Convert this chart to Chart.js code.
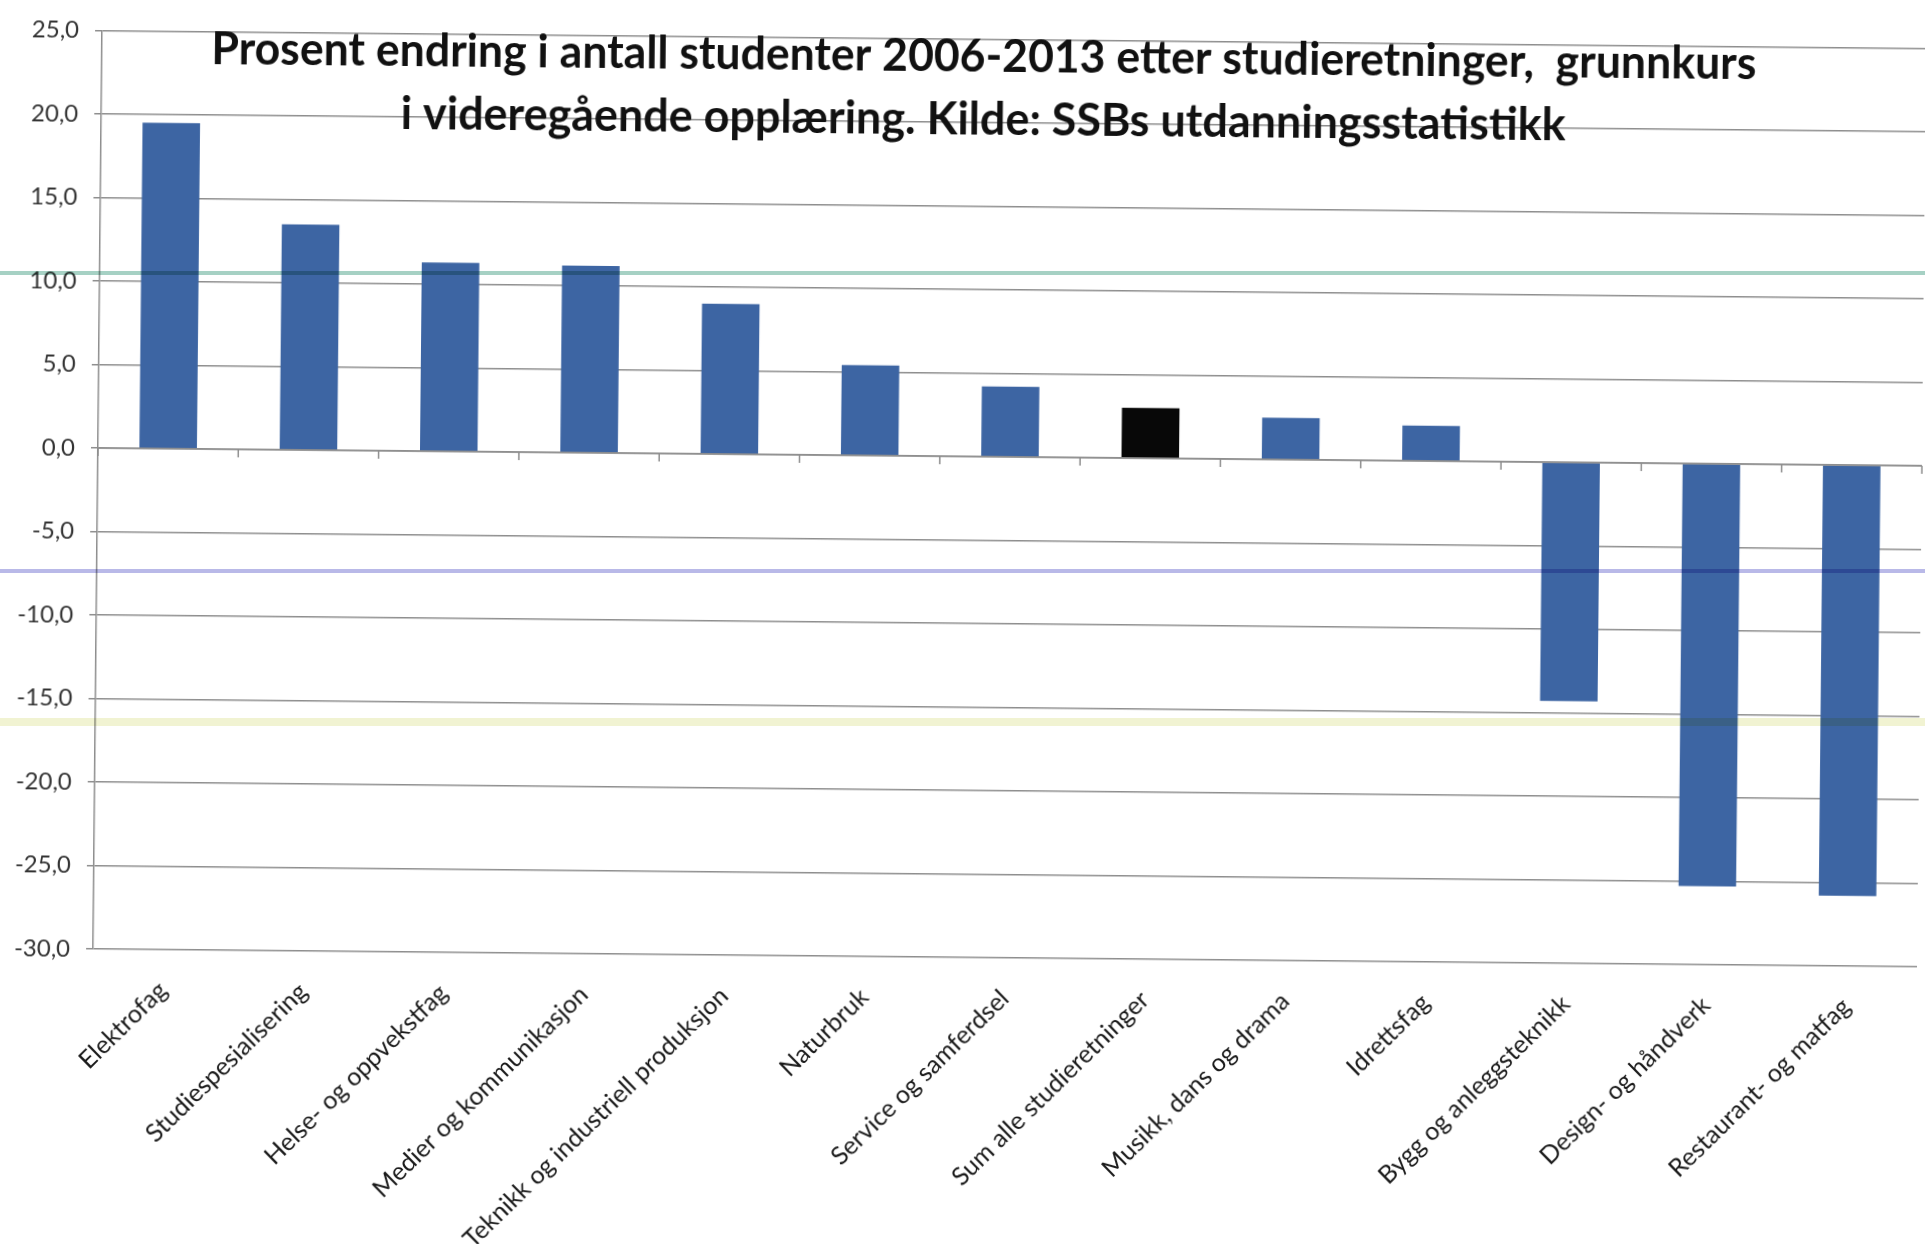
<!DOCTYPE html>
<html lang="no">
<head>
<meta charset="utf-8">
<title>Prosent endring i antall studenter 2006-2013</title>
<script src="https://cdn.jsdelivr.net/npm/chart.js@4.4.1/dist/chart.umd.min.js"></script>
<style>
  html, body { margin: 0; padding: 0; background: #fff; }
  #wrap { position: relative; width: 1925px; height: 1244px; overflow: hidden; background: #fff; }
  /* the scanned original is turned a little clockwise */
  #chart { display: block; transform: rotate(0.56deg); transform-origin: 98px 447px; }
  .scanline { position: absolute; left: 0; width: 100%; mix-blend-mode: multiply; pointer-events: none; }
</style>
</head>
<body>
<div id="wrap">
  <canvas id="chart" width="1925" height="1244" style="width:1925px;height:1244px"></canvas>
  <div class="scanline" style="top:271px;height:4px;background:#a6d1c4"></div>
  <div class="scanline" style="top:569px;height:4px;background:#b9b9e8"></div>
  <div class="scanline" style="top:718px;height:8px;background:#f1f3d2"></div>
</div>
<script>
const categories = [
  'Elektrofag',
  'Studiespesialisering',
  'Helse- og oppvekstfag',
  'Medier og kommunikasjon',
  'Teknikk og industriell produksjon',
  'Naturbruk',
  'Service og samferdsel',
  'Sum alle studieretninger',
  'Musikk, dans og drama',
  'Idrettsfag',
  'Bygg og anleggsteknikk',
  'Design- og håndverk',
  'Restaurant- og matfag'
];
const changePct = [19.5, 13.5, 11.3, 11.2, 9.0, 5.4, 4.2, 3.0, 2.5, 2.1, -14.3, -25.3, -25.8];
const totalCategory = 'Sum alle studieretninger';

const yMin = -30;
const yMax = 25;
const yStep = 5;

const titleLines = [
  'Prosent endring i antall studenter 2006-2013 etter studieretninger,  grunnkurs',
  'i videregående opplæring. Kilde: SSBs utdanningsstatistikk'
];

const barBlue = '#3d65a3';
const totalBlack = '#080808';
const gridGrey = '#8e8e8e';

// title overlaps the plot (Excel overlay title), plus the small category ticks on the 0-line
const overlay = {
  id: 'overlay',
  afterDatasetsDraw(chart) {
    const ctx = chart.ctx;
    const xs = chart.scales.x;
    const ys = chart.scales.y;
    const y0 = ys.getPixelForValue(0);
    const step = xs.width / categories.length;
    ctx.save();
    ctx.strokeStyle = gridGrey;
    ctx.lineWidth = 1.5;
    ctx.beginPath();
    ctx.moveTo(xs.left, y0);
    ctx.lineTo(xs.right, y0);
    for (let i = 0; i <= categories.length; i++) {
      const x = xs.getPixelForValue(0) - step / 2 + i * step;
      ctx.moveTo(x, y0);
      ctx.lineTo(x, y0 + 8);
    }
    ctx.stroke();
    ctx.restore();
  },
  afterDraw(chart) {
    const ctx = chart.ctx;
    ctx.save();
    ctx.fillStyle = '#111';
    ctx.font = 'bold 45px Lato';
    ctx.textAlign = 'center';
    ctx.textBaseline = 'alphabetic';
    ctx.fillText(titleLines[0], 980, 63, 1545);
    ctx.fillText(titleLines[1], 980, 126, 1165);
    ctx.restore();
  }
};

new Chart(document.getElementById('chart'), {
  type: 'bar',
  data: {
    labels: categories,
    datasets: [{
      data: changePct,
      backgroundColor: categories.map(c => c === totalCategory ? totalBlack : barBlue),
      borderWidth: 0,
      barPercentage: 0.41,
      categoryPercentage: 1
    }]
  },
  options: {
    responsive: false,
    animation: false,
    layout: { padding: { top: 25, right: 3, left: 0, bottom: 0 } },
    plugins: {
      legend: { display: false },
      title: { display: false },
      tooltip: { enabled: false }
    },
    scales: {
      x: {
        grid: { display: false, drawTicks: false },
        border: { display: false },
        ticks: {
          autoSkip: false,
          minRotation: 45,
          maxRotation: 45,
          padding: 26,
          color: '#1a1a1a',
          font: { family: 'Lato', size: 25 }
        },
        afterFit(scale) { scale.height = 295; }
      },
      y: {
        min: yMin,
        max: yMax,
        grid: { color: gridGrey, lineWidth: 1.5, tickLength: 7 },
        border: { color: gridGrey, width: 1.5 },
        ticks: {
          stepSize: yStep,
          padding: 16,
          color: '#333',
          font: { family: 'Lato', size: 24 },
          callback: v => v.toFixed(1).replace('.', ',')
        },
        afterFit(scale) { scale.width = 98; }
      }
    }
  },
  plugins: [overlay]
});
</script>
</body>
</html>
